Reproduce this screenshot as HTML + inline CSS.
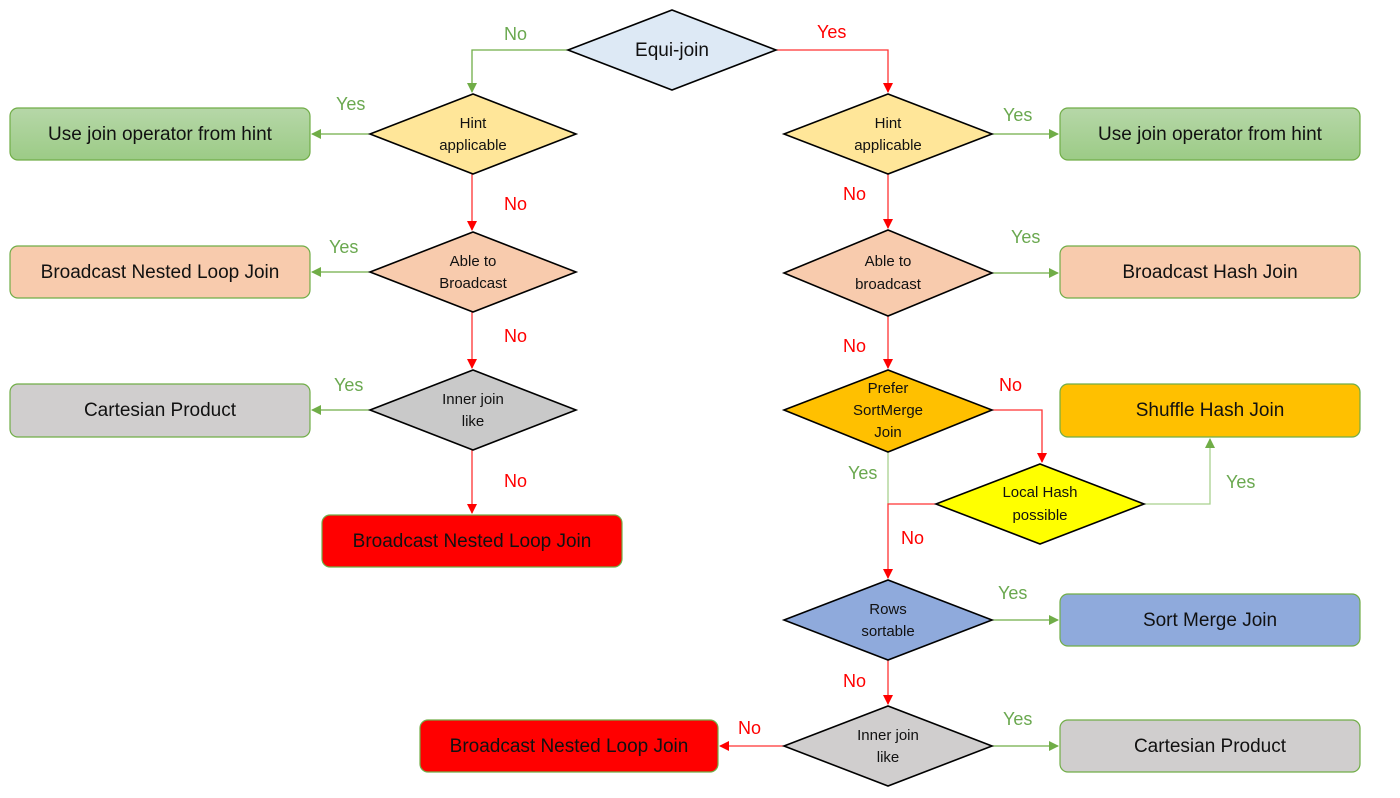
<!DOCTYPE html>
<html><head><meta charset="utf-8"><style>
html,body{margin:0;padding:0;background:#fff;}
svg{display:block;font-family:"Liberation Sans",sans-serif;}
.bt{font-size:19px;fill:#111;text-anchor:middle;dominant-baseline:middle;}
.dt{font-size:15px;fill:#111;text-anchor:middle;dominant-baseline:middle;}
.y{font-size:18px;fill:#6aa84f;}
.n{font-size:18px;fill:#ff0000;}
.d{stroke:#000;stroke-width:1.6;}
.b{stroke:#70ad47;stroke-width:1.2;}
.g{stroke:#70ad47;stroke-width:1.3;fill:none;}
.gl{stroke:#a9d18e;stroke-width:1.3;fill:none;}
.r{stroke:#ff3333;stroke-width:1.3;fill:none;}
</style></head><body>
<svg width="1400" height="798" viewBox="0 0 1400 798" xmlns="http://www.w3.org/2000/svg">
<defs>
<marker id="ag" markerWidth="10" markerHeight="10" refX="9" refY="5" orient="auto" markerUnits="userSpaceOnUse"><path d="M0,0 L10,5 L0,10 z" fill="#70ad47"/></marker>
<marker id="ar" markerWidth="10" markerHeight="10" refX="9" refY="5" orient="auto" markerUnits="userSpaceOnUse"><path d="M0,0 L10,5 L0,10 z" fill="#ff0000"/></marker>
<linearGradient id="grn" x1="0" y1="0" x2="0" y2="1"><stop offset="0" stop-color="#b6d7a8"/><stop offset="1" stop-color="#9ccb86"/></linearGradient>
</defs>

<!-- connectors -->
<path class="g" d="M568,50 H472 V92" marker-end="url(#ag)"/>
<path class="r" d="M776,50 H888 V92" marker-end="url(#ar)"/>
<path class="g" d="M370,134 H312" marker-end="url(#ag)"/>
<path class="r" d="M472,174 V230" marker-end="url(#ar)"/>
<path class="g" d="M370,272 H312" marker-end="url(#ag)"/>
<path class="r" d="M472,312 V368" marker-end="url(#ar)"/>
<path class="g" d="M370,410 H312" marker-end="url(#ag)"/>
<path class="r" d="M472,450 V513" marker-end="url(#ar)"/>
<path class="g" d="M992,134 H1058" marker-end="url(#ag)"/>
<path class="r" d="M888,174 V228" marker-end="url(#ar)"/>
<path class="g" d="M992,273 H1058" marker-end="url(#ag)"/>
<path class="r" d="M888,316 V368" marker-end="url(#ar)"/>
<path class="r" d="M992,410 H1042 V462" marker-end="url(#ar)"/>
<path class="gl" d="M888,452 V504"/>
<path class="r" d="M936,504 H888 V578" marker-end="url(#ar)"/>
<path class="gl" d="M1144,504 H1210 V439" marker-end="url(#ag)"/>
<path class="g" d="M992,620 H1058" marker-end="url(#ag)"/>
<path class="r" d="M888,660 V704" marker-end="url(#ar)"/>
<path class="g" d="M992,746 H1058" marker-end="url(#ag)"/>
<path class="r" d="M784,746 H720" marker-end="url(#ar)"/>

<!-- diamonds -->
<polygon class="d" fill="#dde9f5" points="568,50 672,10 776,50 672,90"/>
<text class="bt" x="672" y="51">Equi-join</text>

<polygon class="d" fill="#ffe699" points="370,134 473,94 576,134 473,174"/>
<text class="dt" x="473" y="124">Hint</text><text class="dt" x="473" y="146">applicable</text>
<polygon class="d" fill="#f8cbad" points="370,272 473,232 576,272 473,312"/>
<text class="dt" x="473" y="262">Able to</text><text class="dt" x="473" y="284">Broadcast</text>
<polygon class="d" fill="#c9c9c9" points="370,410 473,370 576,410 473,450"/>
<text class="dt" x="473" y="400">Inner join</text><text class="dt" x="473" y="422">like</text>

<polygon class="d" fill="#ffe699" points="784,134 888,94 992,134 888,174"/>
<text class="dt" x="888" y="124">Hint</text><text class="dt" x="888" y="146">applicable</text>
<polygon class="d" fill="#f8cbad" points="784,273 888,230 992,273 888,316"/>
<text class="dt" x="888" y="262">Able to</text><text class="dt" x="888" y="285">broadcast</text>
<polygon class="d" fill="#ffc000" points="784,410 888,370 992,410 888,452"/>
<text class="dt" x="888" y="389">Prefer</text><text class="dt" x="888" y="411">SortMerge</text><text class="dt" x="888" y="433">Join</text>
<polygon class="d" fill="#ffff00" points="936,504 1040,464 1144,504 1040,544"/>
<text class="dt" x="1040" y="493">Local Hash</text><text class="dt" x="1040" y="516">possible</text>
<polygon class="d" fill="#8faadc" points="784,620 888,580 992,620 888,660"/>
<text class="dt" x="888" y="610">Rows</text><text class="dt" x="888" y="632">sortable</text>
<polygon class="d" fill="#d0cece" points="784,746 888,706 992,746 888,786"/>
<text class="dt" x="888" y="736">Inner join</text><text class="dt" x="888" y="758">like</text>

<!-- boxes -->
<rect class="b" x="10" y="108" width="300" height="52" rx="8" fill="url(#grn)"/>
<text class="bt" x="160" y="135">Use join operator from hint</text>
<rect class="b" x="10" y="246" width="300" height="52" rx="8" fill="#f8cbad"/>
<text class="bt" x="160" y="273">Broadcast Nested Loop Join</text>
<rect class="b" x="10" y="384" width="300" height="53" rx="8" fill="#d0cece"/>
<text class="bt" x="160" y="411">Cartesian Product</text>
<rect class="b" x="322" y="515" width="300" height="52" rx="8" fill="#ff0000"/>
<text class="bt" x="472" y="542">Broadcast Nested Loop Join</text>

<rect class="b" x="1060" y="108" width="300" height="52" rx="8" fill="url(#grn)"/>
<text class="bt" x="1210" y="135">Use join operator from hint</text>
<rect class="b" x="1060" y="246" width="300" height="52" rx="8" fill="#f8cbad"/>
<text class="bt" x="1210" y="273">Broadcast Hash Join</text>
<rect class="b" x="1060" y="384" width="300" height="53" rx="8" fill="#ffc000"/>
<text class="bt" x="1210" y="411">Shuffle Hash Join</text>
<rect class="b" x="1060" y="594" width="300" height="52" rx="8" fill="#8faadc"/>
<text class="bt" x="1210" y="621">Sort Merge Join</text>
<rect class="b" x="1060" y="720" width="300" height="52" rx="8" fill="#d0cece"/>
<text class="bt" x="1210" y="747">Cartesian Product</text>
<rect class="b" x="420" y="720" width="298" height="52" rx="8" fill="#ff0000"/>
<text class="bt" x="569" y="747">Broadcast Nested Loop Join</text>

<!-- labels -->
<text class="y" x="504" y="40">No</text>
<text class="n" x="817" y="38">Yes</text>
<text class="y" x="336" y="110">Yes</text>
<text class="n" x="504" y="210">No</text>
<text class="y" x="329" y="253">Yes</text>
<text class="n" x="504" y="342">No</text>
<text class="y" x="334" y="391">Yes</text>
<text class="n" x="504" y="487">No</text>
<text class="y" x="1003" y="121">Yes</text>
<text class="n" x="843" y="200">No</text>
<text class="y" x="1011" y="243">Yes</text>
<text class="n" x="843" y="352">No</text>
<text class="n" x="999" y="391">No</text>
<text class="y" x="848" y="479">Yes</text>
<text class="y" x="1226" y="488">Yes</text>
<text class="n" x="901" y="544">No</text>
<text class="y" x="998" y="599">Yes</text>
<text class="n" x="843" y="687">No</text>
<text class="y" x="1003" y="725">Yes</text>
<text class="n" x="738" y="734">No</text>
</svg>
</body></html>
